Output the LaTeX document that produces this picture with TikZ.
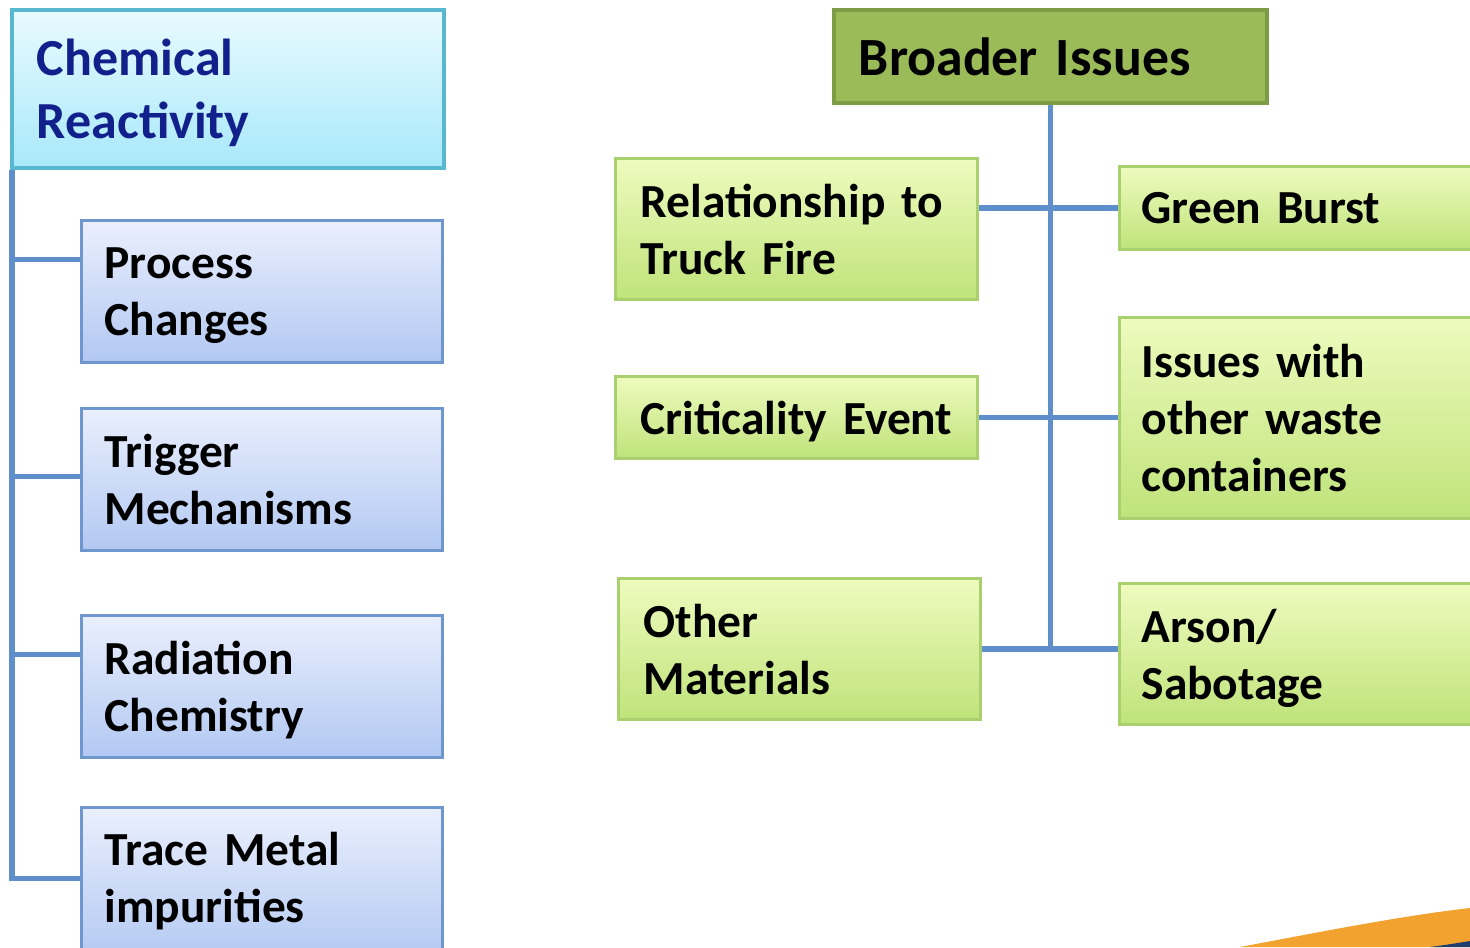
\documentclass[tikz,border=0pt]{standalone}
\usepackage{fontspec}
\setmainfont{Carlito}
\usepackage{xcolor}

\definecolor{chemtop}{HTML}{E9FBFF}
\definecolor{chembot}{HTML}{A8E8FA}
\definecolor{chemline}{HTML}{58B8D0}
\definecolor{chemtext}{HTML}{12208C}
\definecolor{bluetop}{HTML}{EAEFFD}
\definecolor{bluebot}{HTML}{B2C8F2}
\definecolor{blueline}{HTML}{6F97CF}
\definecolor{greentop}{HTML}{EEFBBE}
\definecolor{greenbot}{HTML}{BFE37A}
\definecolor{greenline}{HTML}{A9CF6E}
\definecolor{headfill}{HTML}{9BBB59}
\definecolor{headline}{HTML}{7E9C46}
\definecolor{linkblue}{HTML}{5E8FCB}
\definecolor{swoosh}{HTML}{F2A22E}
\definecolor{swooshdark}{HTML}{1F3E6E}

\begin{document}
\begin{tikzpicture}[
    box/.style={rectangle, anchor=north west, align=left, text depth=0pt,
        font=\bfseries\fontsize{13.5}{16.2}\selectfont},
    twoline/.style={text depth=16.2pt},
    threeline/.style={text depth=32.4pt},
    chembox/.style={box, draw=chemline, line width=1.1pt, top color=chemtop,
        bottom color=chembot, text=chemtext, inner xsep=0.25cm, text width=3.82cm,
        text depth=17.9pt, font=\bfseries\fontsize{14.8}{17.9}\selectfont},
    bluebox/.style={box, twoline, draw=blueline, line width=0.9pt, top color=bluetop,
        bottom color=bluebot, inner xsep=0.23cm, text width=3.15cm},
    greenbox/.style={box, draw=greenline, line width=0.9pt, top color=greentop,
        bottom color=greenbot, inner xsep=0.25cm, text width=3.12cm},
    sidebox/.style={box, draw=greenline, line width=0.9pt, top color=greentop,
        bottom color=greenbot, inner xsep=0.22cm, text width=3.3cm},
    headbox/.style={box, draw=headline, line width=1.1pt, fill=headfill,
        inner xsep=0.25cm, text width=3.83cm,
        font=\bfseries\fontsize{15.3}{18.4}\selectfont},
    link/.style={draw=linkblue, line width=1.6pt}
]
    \useasboundingbox (0,0) rectangle (14.7,-9.47);
    \clip (0,0) rectangle (14.7,-9.47);

    % Chemical reactivity
    \node[chembox, minimum height=1.58cm] (chem) at (0.10,-0.08) {Chemical\\Reactivity};
    \node[bluebox, minimum height=1.42cm] (proc) at (0.80,-2.19) {Process\\Changes};
    \node[bluebox, minimum height=1.42cm] (trig) at (0.80,-4.07) {Trigger\\Mechanisms};
    \node[bluebox, minimum height=1.42cm] (radi) at (0.80,-6.14) {Radiation\\Chemistry};
    \node[bluebox, text depth=20.2pt, minimum height=1.54cm] (trace) at (0.80,-8.06) {Trace Metal\\impurities};

    % Broader issues
    \node[headbox, minimum height=0.93cm] (broad) at (8.32,-0.08) {Broader Issues};
    \node[greenbox, twoline, minimum height=1.41cm] (relat) at (6.14,-1.57) {Relationship to\\Truck Fire};
    \node[greenbox, minimum height=0.82cm] (crit) at (6.14,-3.75) {Criticality Event};
    \node[greenbox, twoline, minimum height=1.41cm] (other) at (6.17,-5.77) {Other\\Materials};
    \node[sidebox, minimum height=0.83cm] (green) at (11.18,-1.65) {Green Burst};
    \node[sidebox, threeline, minimum height=2.01cm] (issues) at (11.18,-3.16) {Issues with\\other waste\\containers};
    \node[sidebox, twoline, minimum height=1.41cm] (arson) at (11.18,-5.82) {Arson/\\Sabotage};

    % Links
    \draw[link] ([xshift=0.02cm]chem.south west) |- ([yshift=0.32cm]proc.west);
    \draw[link] ([xshift=0.02cm]chem.south west) |- ([yshift=0.03cm]trig.west);
    \draw[link] ([xshift=0.02cm]chem.south west) |- ([yshift=0.32cm]radi.west);
    \draw[link] ([xshift=0.02cm]chem.south west) |- ([yshift=0.06cm]trace.west);

    \draw[link] (broad.south) -- (broad.south |- other.east);
    \draw[link] (green.west -| relat.east) -- (green.west);
    \draw[link] (crit.east) -- (crit.east -| issues.west);
    \draw[link] (other.east) -- (other.east -| arson.west);

    % Swoosh
    \fill[swoosh] (12.40,-9.47) .. controls (13.20,-9.32) and (14.00,-9.16) .. (14.70,-9.08)
        -- (14.70,-9.47) -- cycle;
    \fill[swooshdark] (14.30,-9.47) .. controls (14.45,-9.45) .. (14.70,-9.41)
        -- (14.70,-9.47) -- cycle;
\end{tikzpicture}
\end{document}
